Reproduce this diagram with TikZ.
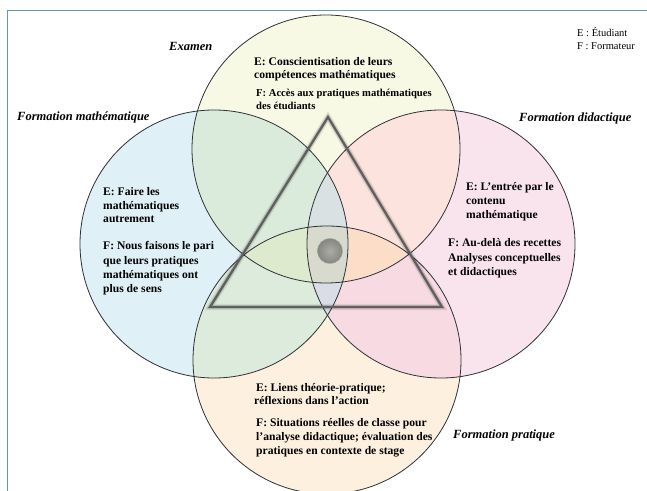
\documentclass[tikz,border=0pt]{standalone}
\usepackage{fontspec}
\setmainfont{Liberation Serif}
\definecolor{cL}{RGB}{223,240,246}
\definecolor{cT}{RGB}{247,249,228}
\definecolor{cR}{RGB}{249,228,238}
\definecolor{cB}{RGB}{253,240,223}
\definecolor{cTL}{RGB}{219,235,219}
\definecolor{cTR}{RGB}{253,227,222}
\definecolor{cBL}{RGB}{220,235,219}
\definecolor{cBR}{RGB}{247,218,226}
\definecolor{cLR}{RGB}{217,225,228}
\definecolor{cTLR}{RGB}{217,225,226}
\definecolor{cBLR}{RGB}{218,221,229}
\definecolor{cTBL}{RGB}{221,234,205}
\definecolor{cTBR}{RGB}{252,221,200}
\definecolor{cAll}{RGB}{216,218,205}
\definecolor{frameblue}{RGB}{95,155,178}
\definecolor{triline}{RGB}{95,95,95}
\definecolor{ballin}{RGB}{172,172,167}
\definecolor{ballout}{RGB}{132,134,128}
\def\cirT{(326,149) circle (134bp)}
\def\cirB{(327,360) circle (134bp)}
\def\cirL{(214,244) circle (134bp)}
\def\cirR{(441,244) circle (134bp)}
\begin{document}
\begin{tikzpicture}[x=1bp,y=-1bp,
  txt/.style={anchor=base west, inner sep=0pt, font=\fontsize{11.6bp}{14bp}\selectfont\bfseries},
  smalltxt/.style={anchor=base west, inner sep=0pt, font=\fontsize{10.6bp}{12bp}\selectfont\bfseries},
  lab/.style={anchor=base west, inner sep=0pt, font=\fontsize{12.5bp}{15bp}\selectfont\bfseries\itshape},
  legend/.style={anchor=base west, inner sep=0pt, font=\fontsize{10.5bp}{13bp}\selectfont},
  outl/.style={draw={rgb,255:red,45;green,50;blue,55}, line width=0.8bp},
  glowA/.style={draw=black, line width=6.5bp, opacity=0.06, line join=miter},
  glowB/.style={draw=black, line width=4.5bp, opacity=0.12, line join=miter},
  tri/.style={draw=triline, line width=2.3bp, line join=miter},
  frameline/.style={draw=frameblue, line width=1bp}]
\useasboundingbox (0,0) rectangle (647,491);
\fill[white] (0,0) rectangle (647,491);
% circle fills
\fill[cL] \cirL;
\fill[cT] \cirT;
\fill[cR] \cirR;
\fill[cB] \cirB;
\begin{scope}\clip \cirT; \fill[cTL] \cirL; \fill[cTR] \cirR; \end{scope}
\begin{scope}\clip \cirB; \fill[cBL] \cirL; \fill[cBR] \cirR; \end{scope}
\begin{scope}\clip \cirL; \fill[cLR] \cirR; \end{scope}
\begin{scope}\clip \cirT; \clip \cirL; \fill[cTLR] \cirR; \fill[cTBL] \cirB; \end{scope}
\begin{scope}\clip \cirT; \clip \cirR; \fill[cTBR] \cirB; \end{scope}
\begin{scope}\clip \cirB; \clip \cirL; \fill[cBLR] \cirR; \end{scope}
\begin{scope}\clip \cirT; \clip \cirB; \clip \cirL; \fill[cAll] \cirR; \end{scope}
% outlines
\draw[outl] \cirL;
\draw[outl] \cirT;
\draw[outl] \cirR;
\draw[outl] \cirB;
% triangle
\coordinate (apex) at (328,117);
\coordinate (bl) at (210,307);
\coordinate (br) at (442,307);
\draw[glowA] (apex) -- (bl) -- (br) -- cycle;
\draw[glowB] (apex) -- (bl) -- (br) -- cycle;
\draw[tri] (apex) -- (bl) -- (br) -- cycle;
% ball
\shade[inner color=ballin, outer color=ballout] (330,251) circle (12.7bp);
\draw[gray!60, line width=0.4bp] (330,251) circle (12.7bp);
% frame
\draw[frameline] (647,11) -- (7,11) -- (7,491);
% labels
\node[lab] (examen) at (169,51) {Examen};
\node[lab] (fmath) at (17,121) {Formation mathématique};
\node[lab] (fdid) at (519,122) {Formation didactique};
\node[lab] (fprat) at (453,438) {Formation pratique};
% legend
\node[legend] (legE) at (577,37) {E : Étudiant};
\node[legend] (legF) at (577,50) {F : Formateur};
% top texts
\node[txt] (t1) at (254,66) {E: Conscientisation de leurs};
\node[txt] (t2) at (254,79) {compétences mathématiques};
\node[smalltxt] (t3) at (256,97) {F: Accès aux pratiques mathématiques};
\node[smalltxt] (t4) at (256,110) {des étudiants};
% left texts
\node[txt] (l1) at (103,196) {E: Faire les};
\node[txt] (l2) at (103,209.5) {mathématiques};
\node[txt] (l3) at (103,223) {autrement};
\node[txt] (l4) at (103,250) {F: Nous faisons le pari};
\node[txt] (l5) at (103,264) {que leurs pratiques};
\node[txt] (l6) at (103,278) {mathématiques ont};
\node[txt] (l7) at (103,292) {plus de sens};
% right texts
\node[txt] (r1) at (466,191) {E: L’entrée par le};
\node[txt] (r2) at (466,205) {contenu};
\node[txt] (r3) at (466,219) {mathématique};
\node[txt] (r4) at (448,247) {F: Au-delà des recettes};
\node[txt] (r5) at (448,261) {Analyses conceptuelles};
\node[txt] (r6) at (448,275) {et didactiques};
% bottom texts
\node[txt] (b1) at (256,391) {E: Liens théorie-pratique;};
\node[txt] (b2) at (254,404) {réflexions dans l’action};
\node[txt] (b3) at (256,426) {F: Situations réelles de classe pour};
\node[txt] (b4) at (256,440) {l’analyse didactique; évaluation des};
\node[txt] (b5) at (256,454) {pratiques en contexte de stage};
\end{tikzpicture}
\end{document}
